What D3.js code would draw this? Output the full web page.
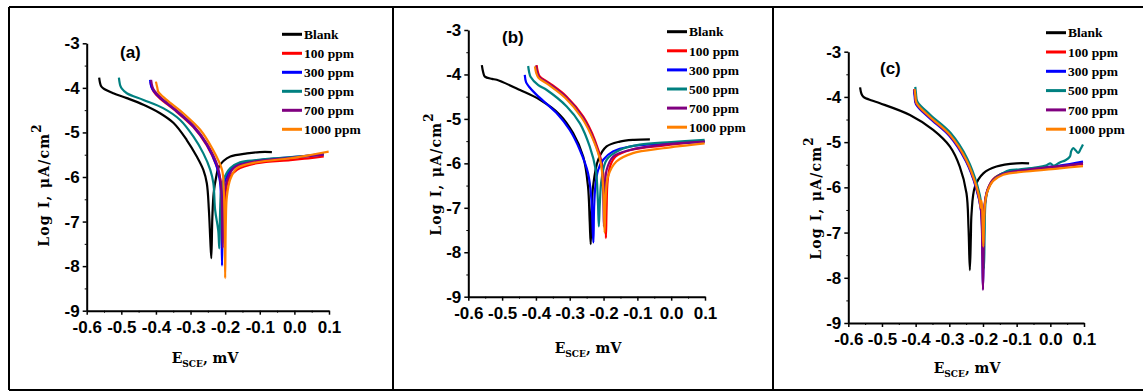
<!DOCTYPE html>
<html>
<head>
<meta charset="utf-8">
<script src="https://cdn.jsdelivr.net/npm/d3@7"></script>
<style>
  body { margin: 0; background: #fff; }
  svg { display: block; }
  .tick text { font-family: "Liberation Sans Narrow", "Arial Narrow", "Liberation Sans", sans-serif; font-weight: bold; font-size: 17px; fill: #000; }
  .legend text { font-family: "Liberation Serif", serif; font-weight: bold; font-size: 13.5px; }
  .title { font-family: "DejaVu Serif", serif; font-weight: bold; font-size: 14px; }
  .tag { font-family: "Liberation Sans Narrow", "Arial Narrow", "Liberation Sans", sans-serif; font-weight: bold; font-size: 17px; }
</style>
</head>
<body>
<svg id="chart" width="1143" height="392"></svg>
<script>
// series names + colours
const seriesNames = ['Blank', '100 ppm', '300 ppm', '500 ppm', '700 ppm', '1000 ppm'];
const seriesColors = ['#000000', '#ff0000', '#0000ff', '#008080', '#800080', '#ff8000'];

const xTicks = [-0.6, -0.5, -0.4, -0.3, -0.2, -0.1, 0.0, 0.1];
const xTickLabels = ['-0.6', '-0.5', '-0.4', '-0.3', '-0.2', '-0.1', '0.0', '0.1'];
const yTicks = [-9, -8, -7, -6, -5, -4, -3];
const yTickLabels = ['-9', '-8', '-7', '-6', '-5', '-4', '-3'];

// [E (V), log I]
// panel (a)
const aBlank = [[-0.564,-3.77],[-0.559,-3.95],[-0.552,-4.01],[-0.523,-4.12],[-0.484,-4.23],[-0.436,-4.38],[-0.388,-4.57],[-0.349,-4.79],[-0.311,-5.17],[-0.282,-5.54],[-0.263,-5.84],[-0.253,-6.14],[-0.247,-6.74],[-0.243,-7.4],[-0.240,-7.82],[-0.237,-6.9],[-0.233,-6.35],[-0.226,-6.0],[-0.219,-5.78],[-0.205,-5.64],[-0.185,-5.54],[-0.137,-5.47],[-0.100,-5.44],[-0.065,-5.44]];
const a100 = [[-0.416,-3.86],[-0.411,-4.02],[-0.400,-4.15],[-0.385,-4.26],[-0.340,-4.54],[-0.292,-4.88],[-0.253,-5.29],[-0.224,-5.77],[-0.210,-6.2],[-0.205,-6.7],[-0.203,-7.0],[-0.200,-6.44],[-0.190,-6.05],[-0.166,-5.84],[-0.108,-5.69],[-0.012,-5.62],[0.040,-5.58],[0.085,-5.54]];
const a300 = [[-0.417,-3.82],[-0.413,-3.98],[-0.407,-4.06],[-0.388,-4.22],[-0.340,-4.52],[-0.292,-4.86],[-0.253,-5.27],[-0.226,-5.72],[-0.215,-6.1],[-0.211,-6.8],[-0.209,-7.99],[-0.207,-6.8],[-0.205,-6.22],[-0.193,-5.95],[-0.176,-5.77],[-0.127,-5.65],[-0.012,-5.56],[0.085,-5.48]];
const a500 = [[-0.507,-3.77],[-0.503,-3.95],[-0.499,-4.01],[-0.484,-4.12],[-0.436,-4.27],[-0.378,-4.46],[-0.330,-4.72],[-0.292,-5.09],[-0.263,-5.47],[-0.243,-5.84],[-0.234,-6.14],[-0.229,-6.74],[-0.220,-7.2],[-0.217,-7.60],[-0.215,-6.9],[-0.212,-6.35],[-0.205,-6.07],[-0.185,-5.80],[-0.157,-5.67],[-0.110,-5.62],[-0.060,-5.58],[0.000,-5.55],[0.050,-5.52],[0.085,-5.50]];
const a700 = [[-0.414,-3.82],[-0.410,-3.98],[-0.404,-4.07],[-0.386,-4.22],[-0.338,-4.52],[-0.290,-4.86],[-0.251,-5.27],[-0.222,-5.75],[-0.212,-6.2],[-0.209,-6.9],[-0.207,-7.59],[-0.205,-6.7],[-0.200,-6.25],[-0.190,-5.98],[-0.172,-5.78],[-0.120,-5.66],[-0.012,-5.57],[0.085,-5.50]];
const a1000 = [[-0.400,-3.86],[-0.396,-4.00],[-0.393,-4.09],[-0.369,-4.27],[-0.321,-4.57],[-0.272,-4.94],[-0.238,-5.35],[-0.209,-5.84],[-0.204,-6.3],[-0.201,-7.2],[-0.200,-8.27],[-0.198,-7.0],[-0.195,-6.44],[-0.185,-6.05],[-0.166,-5.80],[-0.108,-5.67],[-0.012,-5.58],[0.050,-5.50],[0.099,-5.43]];

// panel (b)
const bBlank = [[-0.560,-3.79],[-0.556,-3.95],[-0.551,-4.05],[-0.530,-4.10],[-0.516,-4.12],[-0.447,-4.35],[-0.388,-4.57],[-0.329,-4.91],[-0.290,-5.32],[-0.260,-5.85],[-0.246,-6.52],[-0.241,-7.3],[-0.238,-7.82],[-0.235,-7.0],[-0.231,-6.52],[-0.216,-5.92],[-0.191,-5.62],[-0.152,-5.51],[-0.110,-5.47],[-0.063,-5.46]];
const b100 = [[-0.398,-3.79],[-0.394,-3.95],[-0.388,-4.05],[-0.359,-4.20],[-0.309,-4.50],[-0.260,-4.95],[-0.226,-5.47],[-0.205,-6.0],[-0.197,-6.6],[-0.194,-7.2],[-0.193,-7.68],[-0.191,-7.0],[-0.188,-6.4],[-0.180,-6.05],[-0.165,-5.85],[-0.120,-5.70],[-0.024,-5.60],[0.099,-5.50]];
const b300 = [[-0.433,-4.01],[-0.429,-4.18],[-0.421,-4.27],[-0.398,-4.46],[-0.339,-4.87],[-0.300,-5.25],[-0.270,-5.70],[-0.246,-6.22],[-0.236,-6.8],[-0.232,-7.5],[-0.230,-7.78],[-0.228,-7.0],[-0.224,-6.5],[-0.216,-6.15],[-0.201,-5.92],[-0.172,-5.73],[-0.122,-5.62],[-0.020,-5.56],[0.099,-5.52]];
const b500 = [[-0.423,-3.81],[-0.420,-3.95],[-0.416,-4.05],[-0.393,-4.24],[-0.368,-4.35],[-0.309,-4.72],[-0.270,-5.10],[-0.241,-5.62],[-0.223,-6.15],[-0.217,-6.8],[-0.214,-7.42],[-0.211,-6.9],[-0.206,-6.37],[-0.191,-5.92],[-0.152,-5.70],[-0.093,-5.58],[0.000,-5.52],[0.099,-5.47]];
const b700 = [[-0.400,-3.80],[-0.396,-3.96],[-0.390,-4.06],[-0.361,-4.21],[-0.311,-4.51],[-0.262,-4.96],[-0.228,-5.48],[-0.207,-6.0],[-0.201,-6.7],[-0.199,-7.42],[-0.196,-6.7],[-0.191,-6.15],[-0.172,-5.85],[-0.122,-5.70],[-0.024,-5.58],[0.099,-5.51]];
const b1000 = [[-0.403,-3.82],[-0.399,-3.97],[-0.392,-4.08],[-0.363,-4.23],[-0.313,-4.53],[-0.264,-4.98],[-0.229,-5.50],[-0.208,-6.0],[-0.200,-6.7],[-0.197,-7.56],[-0.194,-6.8],[-0.187,-6.30],[-0.162,-5.96],[-0.113,-5.77],[-0.024,-5.66],[0.099,-5.55]];

// panel (c)
const cBlank = [[-0.565,-3.79],[-0.561,-3.93],[-0.555,-4.00],[-0.530,-4.08],[-0.506,-4.14],[-0.417,-4.40],[-0.348,-4.73],[-0.298,-5.10],[-0.269,-5.54],[-0.249,-6.13],[-0.243,-6.9],[-0.239,-7.83],[-0.236,-7.1],[-0.234,-6.58],[-0.224,-5.99],[-0.199,-5.69],[-0.160,-5.54],[-0.100,-5.47],[-0.063,-5.47]];
const c100 = [[-0.404,-3.82],[-0.402,-3.95],[-0.397,-4.13],[-0.358,-4.43],[-0.298,-4.83],[-0.249,-5.39],[-0.219,-5.98],[-0.206,-6.4],[-0.202,-7.0],[-0.200,-7.25],[-0.197,-6.7],[-0.193,-6.25],[-0.185,-6.02],[-0.170,-5.82],[-0.140,-5.69],[-0.071,-5.62],[0.028,-5.54],[0.097,-5.48]];
const c300 = [[-0.405,-3.84],[-0.403,-3.98],[-0.399,-4.16],[-0.360,-4.46],[-0.300,-4.86],[-0.251,-5.42],[-0.221,-6.0],[-0.206,-6.5],[-0.202,-7.4],[-0.200,-8.25],[-0.198,-7.3],[-0.195,-6.4],[-0.186,-6.05],[-0.170,-5.84],[-0.140,-5.69],[-0.071,-5.60],[0.028,-5.52],[0.097,-5.43]];
const c500 = [[-0.401,-3.78],[-0.399,-3.92],[-0.395,-4.10],[-0.356,-4.40],[-0.296,-4.80],[-0.247,-5.36],[-0.217,-5.95],[-0.204,-6.4],[-0.199,-7.2],[-0.197,-7.8],[-0.195,-7.0],[-0.192,-6.3],[-0.183,-6.0],[-0.165,-5.80],[-0.140,-5.68],[-0.120,-5.62],[-0.090,-5.60],[-0.040,-5.56],[-0.011,-5.51],[0.000,-5.47],[0.010,-5.52],[0.028,-5.45],[0.045,-5.40],[0.058,-5.32],[0.062,-5.20],[0.068,-5.13],[0.075,-5.18],[0.083,-5.24],[0.090,-5.15],[0.097,-5.05]];
const c700 = [[-0.404,-3.83],[-0.402,-3.97],[-0.398,-4.15],[-0.359,-4.45],[-0.299,-4.85],[-0.250,-5.41],[-0.220,-6.0],[-0.206,-6.5],[-0.202,-7.5],[-0.200,-8.27],[-0.198,-7.4],[-0.196,-6.5],[-0.188,-6.1],[-0.172,-5.86],[-0.140,-5.70],[-0.071,-5.61],[0.028,-5.53],[0.097,-5.47]];
const c1000 = [[-0.403,-3.83],[-0.401,-3.96],[-0.397,-4.14],[-0.358,-4.44],[-0.298,-4.84],[-0.249,-5.40],[-0.219,-5.99],[-0.208,-6.35],[-0.207,-6.45],[-0.204,-6.3],[-0.201,-6.8],[-0.199,-7.31],[-0.197,-6.8],[-0.193,-6.3],[-0.186,-6.07],[-0.170,-5.86],[-0.140,-5.72],[-0.071,-5.65],[0.028,-5.58],[0.097,-5.53]];

const svg = d3.select('#chart');

// frame lines round the three panels
const frame = svg.append('g').attr('stroke', '#000').attr('stroke-width', 2);
frame.append('line').attr('x1', 9).attr('x2', 1143).attr('y1', 7).attr('y2', 7);
frame.append('line').attr('x1', 9).attr('x2', 1143).attr('y1', 390).attr('y2', 390);
[9, 393, 773].forEach(x => frame.append('line').attr('x1', x).attr('x2', x).attr('y1', 7).attr('y2', 390));

const panels = [
  { x0: 86.7, x1: 329, y0: 43.3, y1: 310.7, tag: '(a)', tagX: 120, tagY: 58,
    legX: 282, legY: 34.3, legStep: 19, xt: [205, 363], yt: [49, 185],
    data: [aBlank, a100, a300, a500, a700, a1000] },
  { x0: 468.3, x1: 705, y0: 30, y1: 296.7, tag: '(b)', tagX: 502, tagY: 43,
    legX: 667, legY: 31.7, legStep: 19.1, xt: [588, 353], yt: [441, 174],
    data: [bBlank, b100, b300, b500, b700, b1000] },
  { x0: 848.3, x1: 1084, y0: 51.7, y1: 323, tag: '(c)', tagX: 880, tagY: 74,
    legX: 1046, legY: 32.7, legStep: 19.3, xt: [967, 373], yt: [821, 198],
    data: [cBlank, c100, c300, c500, c700, c1000] }
];

function drawPanel(p) {
  const g = svg.append('g');
  const x = d3.scaleLinear().domain([-0.6, 0.1]).range([p.x0, p.x1]);
  const y = d3.scaleLinear().domain([-9, -3]).range([p.y1, p.y0]);

  const line = d3.line()
    .x(d => x(d[0]))
    .y(d => y(d[1]))
    .curve(d3.curveCatmullRom.alpha(0.5));

  p.data.forEach((s, i) => {
    g.append('path')
      .datum(s)
      .attr('fill', 'none')
      .attr('stroke', seriesColors[i])
      .attr('stroke-width', 2.2)
      .attr('stroke-linejoin', 'round')
      .attr('d', line);
  });

  // minor ticks
  const xMinor = xTicks.slice(0, -1).map(v => v + 0.05);
  const yMinor = yTicks.slice(0, -1).map(v => v + 0.5);
  g.append('g').attr('transform', `translate(0,${p.y1})`)
    .call(d3.axisBottom(x).tickValues(xMinor).tickSize(2).tickFormat(''))
    .call(a => a.select('.domain').remove());
  g.append('g').attr('transform', `translate(${p.x0},0)`)
    .call(d3.axisLeft(y).tickValues(yMinor).tickSize(2).tickFormat(''))
    .call(a => a.select('.domain').remove());

  const xa = g.append('g').attr('transform', `translate(0,${p.y1})`)
    .call(d3.axisBottom(x).tickValues(xTicks).tickSize(4).tickSizeOuter(0).tickPadding(6)
      .tickFormat((d, i) => xTickLabels[i]));
  const ya = g.append('g').attr('transform', `translate(${p.x0},0)`)
    .call(d3.axisLeft(y).tickValues(yTicks).tickSize(4).tickSizeOuter(0).tickPadding(3)
      .tickFormat((d, i) => yTickLabels[i]));
  [xa, ya].forEach(a => {
    a.select('.domain').attr('stroke-width', 2);
    a.selectAll('.tick line').attr('stroke-width', 1.5);
    a.attr('font-family', null).attr('font-size', null);
  });
  g.selectAll('.tick line').attr('stroke', '#000');

  g.append('text').attr('class', 'tag').attr('x', p.tagX).attr('y', p.tagY).text(p.tag);

  // legend
  const leg = g.append('g').attr('class', 'legend');
  seriesNames.forEach((name, i) => {
    const ly = p.legY + i * p.legStep;
    leg.append('line').attr('x1', p.legX).attr('x2', p.legX + 20)
      .attr('y1', ly).attr('y2', ly)
      .attr('stroke', seriesColors[i]).attr('stroke-width', 3);
    leg.append('text').attr('x', p.legX + 22).attr('y', ly).attr('dy', '0.35em').text(name);
  });

  // axis titles
  const xt = g.append('text').attr('class', 'title')
    .attr('x', p.xt[0]).attr('y', p.xt[1]).attr('text-anchor', 'middle');
  xt.append('tspan').text('E');
  xt.append('tspan').attr('font-size', 9).attr('dy', 4).text('SCE');
  xt.append('tspan').attr('dy', -4).text(', mV');

  const yt = g.append('text').attr('class', 'title')
    .attr('transform', `translate(${p.yt[0]},${p.yt[1]}) rotate(-90)`)
    .attr('text-anchor', 'middle').attr('letter-spacing', 1.2);
  yt.append('tspan').text('Log I, μA/cm');
  yt.append('tspan').attr('font-size', 12).attr('dy', -8).text('2');
}

panels.forEach(drawPanel);
</script>
</body>
</html>
